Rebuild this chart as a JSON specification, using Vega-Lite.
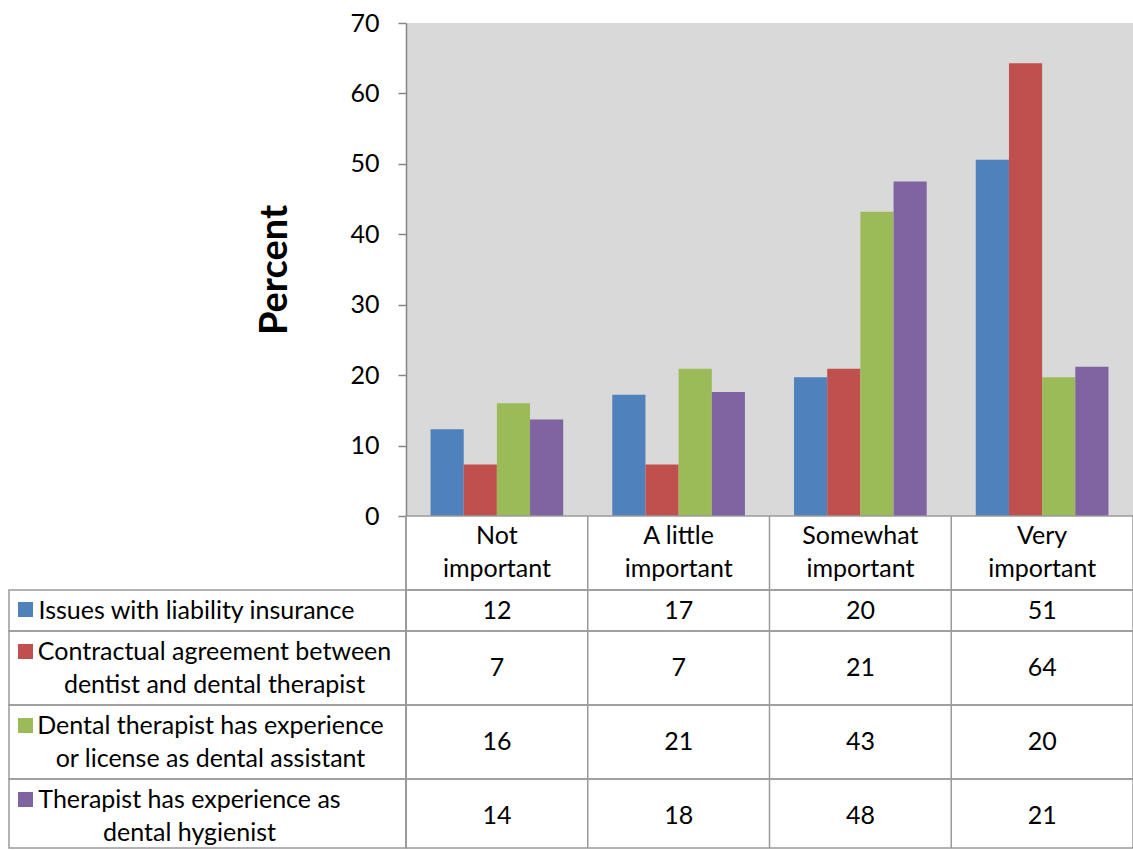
{
  "$schema": "https://vega.github.io/schema/vega-lite/v6.json",
  "padding": {"left": 8, "top": 11, "right": 0, "bottom": 0},
  "background": "white",
  "config": {
    "font": "Lato",
    "view": {"stroke": null},
    "concat": {"spacing": 0}
  },
  "datasets": {
    "survey": [
      {"category": "Not important", "series": "Issues with liability insurance", "value": 12.3},
      {"category": "Not important", "series": "Contractual agreement between\ndentist and dental therapist", "value": 7.3},
      {"category": "Not important", "series": "Dental therapist has experience\nor license as dental assistant", "value": 16.0},
      {"category": "Not important", "series": "Therapist has experience as\ndental hygienist", "value": 13.7},
      {"category": "A little important", "series": "Issues with liability insurance", "value": 17.2},
      {"category": "A little important", "series": "Contractual agreement between\ndentist and dental therapist", "value": 7.3},
      {"category": "A little important", "series": "Dental therapist has experience\nor license as dental assistant", "value": 20.9},
      {"category": "A little important", "series": "Therapist has experience as\ndental hygienist", "value": 17.6},
      {"category": "Somewhat important", "series": "Issues with liability insurance", "value": 19.7},
      {"category": "Somewhat important", "series": "Contractual agreement between\ndentist and dental therapist", "value": 20.9},
      {"category": "Somewhat important", "series": "Dental therapist has experience\nor license as dental assistant", "value": 43.2},
      {"category": "Somewhat important", "series": "Therapist has experience as\ndental hygienist", "value": 47.5},
      {"category": "Very important", "series": "Issues with liability insurance", "value": 50.6},
      {"category": "Very important", "series": "Contractual agreement between\ndentist and dental therapist", "value": 64.3},
      {"category": "Very important", "series": "Dental therapist has experience\nor license as dental assistant", "value": 19.7},
      {"category": "Very important", "series": "Therapist has experience as\ndental hygienist", "value": 21.2}
    ]
  },
  "columns": 2,
  "spacing": 0,
  "bounds": "flush",
  "resolve": {
    "scale": {"x": "independent", "y": "independent", "color": "shared"},
    "legend": {"color": "independent"}
  },
  "concat": [
    {
      "width": 397, "height": 493,
      "data": {"values": [{"blank": ""}]},
      "mark": {"type": "text"},
      "encoding": {"text": {"field": "blank"}}
    },
    {
      "width": 727, "height": 493,
      "view": {"fill": "#D9D9D9", "stroke": null},
      "data": {"name": "survey"},
      "mark": {"type": "bar"},
      "encoding": {
        "x": {
          "field": "category", "type": "nominal",
          "sort": ["Not important", "A little important", "Somewhat important", "Very important"],
          "scale": {"paddingInner": 0.27, "paddingOuter": 0.135},
          "axis": {
            "title": null, "domain": false, "ticks": false, "labelAngle": 0,
            "labelFontSize": 25, "labelColor": "black", "labelPadding": 7,
            "labelLineHeight": 33,
            "labelExpr": "[replace(datum.label, ' important', ''), 'important']"
          }
        },
        "xOffset": {
          "field": "series", "type": "nominal",
          "sort": ["Issues with liability insurance", "Contractual agreement between\ndentist and dental therapist", "Dental therapist has experience\nor license as dental assistant", "Therapist has experience as\ndental hygienist"],
          "scale": {"paddingInner": 0, "paddingOuter": 0}
        },
        "y": {
          "field": "value", "type": "quantitative",
          "scale": {"domain": [0, 70], "nice": false},
          "axis": {
            "title": "Percent", "values": [0, 10, 20, 30, 40, 50, 60, 70], "grid": false,
            "domainColor": "#868686", "domainWidth": 1.5,
            "tickColor": "#868686", "tickWidth": 1.5, "tickSize": 8,
            "labelFontSize": 25, "labelColor": "black", "labelPadding": 19,
            "titleFontSize": 38, "titleFontWeight": "bold", "titleColor": "black", "titlePadding": 55
          }
        },
        "color": {
          "field": "series", "type": "nominal",
          "scale": {
            "domain": ["Issues with liability insurance", "Contractual agreement between\ndentist and dental therapist", "Dental therapist has experience\nor license as dental assistant", "Therapist has experience as\ndental hygienist"],
            "range": ["#4F81BD", "#C0504D", "#9BBB59", "#8064A2"]
          },
          "legend": null
        }
      }
    },
    {
      "width": 397, "height": 74,
      "data": {"values": [{"blank": ""}]},
      "mark": {"type": "text"},
      "encoding": {"text": {"field": "blank"}}
    },
    {
      "width": 727, "height": 74,
      "view": {"stroke": "#9a9a9a", "strokeWidth": 1.5},
      "data": {"name": "survey"},
      "transform": [{"filter": {"field": "series", "equal": "Issues with liability insurance"}}],
      "mark": {"type": "rule", "color": "#9a9a9a", "strokeWidth": 1.5},
      "encoding": {
        "x": {"field": "category", "type": "nominal", "bandPosition": 0,
              "sort": ["Not important", "A little important", "Somewhat important", "Very important"],
              "scale": {"type": "band", "paddingInner": 0, "paddingOuter": 0}, "axis": null}
      }
    },
    {
      "width": 397, "height": 41,
      "view": {"stroke": "#9a9a9a", "strokeWidth": 1.5},
      "data": {"name": "survey"},
      "transform": [{"filter": {"field": "series", "equal": "Issues with liability insurance"}}, {"filter": {"field": "category", "equal": "Not important"}}],
      "layer": [
        {"mark": {"type": "text", "fontSize": 25, "lineBreak": "\n", "lineHeight": 33, "align": "center", "baseline": "middle", "color": "black", "dx": -11},
         "encoding": {"text": {"field": "series"}}},
        {"mark": {"type": "square", "opacity": 0},
         "encoding": {"color": {"field": "series", "type": "nominal",
           "scale": {"domain": ["Issues with liability insurance", "Contractual agreement between\ndentist and dental therapist", "Dental therapist has experience\nor license as dental assistant", "Therapist has experience as\ndental hygienist"], "range": ["#4F81BD", "#C0504D", "#9BBB59", "#8064A2"]},
           "legend": {"orient": "none", "legendX": 9, "legendY": 12, "title": null, "padding": 0, "values": ["Issues with liability insurance"], "symbolType": "square", "symbolSize": 225, "symbolOpacity": 1, "symbolStrokeWidth": 0, "labelExpr": "''"}}}}
      ]
    },
    {
      "width": 727, "height": 41,
      "view": {"stroke": "#9a9a9a", "strokeWidth": 1.5},
      "data": {"name": "survey"},
      "transform": [{"filter": {"field": "series", "equal": "Issues with liability insurance"}}],
      "layer": [
        {"mark": {"type": "rule", "color": "#9a9a9a", "strokeWidth": 1.5},
         "encoding": {"x": {"field": "category", "type": "nominal", "bandPosition": 0,
              "sort": ["Not important", "A little important", "Somewhat important", "Very important"],
              "scale": {"type": "band", "paddingInner": 0, "paddingOuter": 0}, "axis": null}}},
        {"mark": {"type": "text", "fontSize": 25, "color": "black"},
         "encoding": {"x": {"field": "category", "type": "nominal", "bandPosition": 0.5,
              "sort": ["Not important", "A little important", "Somewhat important", "Very important"],
              "scale": {"type": "band", "paddingInner": 0, "paddingOuter": 0}, "axis": null},
              "text": {"field": "value", "type": "quantitative", "format": ".0f"}}}
      ]
    },
    {
      "width": 397, "height": 74,
      "view": {"stroke": "#9a9a9a", "strokeWidth": 1.5},
      "data": {"name": "survey"},
      "transform": [{"filter": {"field": "series", "equal": "Contractual agreement between\ndentist and dental therapist"}}, {"filter": {"field": "category", "equal": "Not important"}}],
      "layer": [
        {"mark": {"type": "text", "fontSize": 25, "lineBreak": "\n", "lineHeight": 33, "align": "center", "baseline": "middle", "color": "black", "dx": 7, "dy": -16.5},
         "encoding": {"text": {"field": "series"}}},
        {"mark": {"type": "square", "opacity": 0},
         "encoding": {"color": {"field": "series", "type": "nominal",
           "scale": {"domain": ["Issues with liability insurance", "Contractual agreement between\ndentist and dental therapist", "Dental therapist has experience\nor license as dental assistant", "Therapist has experience as\ndental hygienist"], "range": ["#4F81BD", "#C0504D", "#9BBB59", "#8064A2"]},
           "legend": {"orient": "none", "legendX": 9, "legendY": 13, "title": null, "padding": 0, "values": ["Contractual agreement between\ndentist and dental therapist"], "symbolType": "square", "symbolSize": 225, "symbolOpacity": 1, "symbolStrokeWidth": 0, "labelExpr": "''"}}}}
      ]
    },
    {
      "width": 727, "height": 74,
      "view": {"stroke": "#9a9a9a", "strokeWidth": 1.5},
      "data": {"name": "survey"},
      "transform": [{"filter": {"field": "series", "equal": "Contractual agreement between\ndentist and dental therapist"}}],
      "layer": [
        {"mark": {"type": "rule", "color": "#9a9a9a", "strokeWidth": 1.5},
         "encoding": {"x": {"field": "category", "type": "nominal", "bandPosition": 0,
              "sort": ["Not important", "A little important", "Somewhat important", "Very important"],
              "scale": {"type": "band", "paddingInner": 0, "paddingOuter": 0}, "axis": null}}},
        {"mark": {"type": "text", "fontSize": 25, "color": "black"},
         "encoding": {"x": {"field": "category", "type": "nominal", "bandPosition": 0.5,
              "sort": ["Not important", "A little important", "Somewhat important", "Very important"],
              "scale": {"type": "band", "paddingInner": 0, "paddingOuter": 0}, "axis": null},
              "text": {"field": "value", "type": "quantitative", "format": ".0f"}}}
      ]
    },
    {
      "width": 397, "height": 74,
      "view": {"stroke": "#9a9a9a", "strokeWidth": 1.5},
      "data": {"name": "survey"},
      "transform": [{"filter": {"field": "series", "equal": "Dental therapist has experience\nor license as dental assistant"}}, {"filter": {"field": "category", "equal": "Not important"}}],
      "layer": [
        {"mark": {"type": "text", "fontSize": 25, "lineBreak": "\n", "lineHeight": 33, "align": "center", "baseline": "middle", "color": "black", "dx": 3, "dy": -16.5},
         "encoding": {"text": {"field": "series"}}},
        {"mark": {"type": "square", "opacity": 0},
         "encoding": {"color": {"field": "series", "type": "nominal",
           "scale": {"domain": ["Issues with liability insurance", "Contractual agreement between\ndentist and dental therapist", "Dental therapist has experience\nor license as dental assistant", "Therapist has experience as\ndental hygienist"], "range": ["#4F81BD", "#C0504D", "#9BBB59", "#8064A2"]},
           "legend": {"orient": "none", "legendX": 9, "legendY": 13, "title": null, "padding": 0, "values": ["Dental therapist has experience\nor license as dental assistant"], "symbolType": "square", "symbolSize": 225, "symbolOpacity": 1, "symbolStrokeWidth": 0, "labelExpr": "''"}}}}
      ]
    },
    {
      "width": 727, "height": 74,
      "view": {"stroke": "#9a9a9a", "strokeWidth": 1.5},
      "data": {"name": "survey"},
      "transform": [{"filter": {"field": "series", "equal": "Dental therapist has experience\nor license as dental assistant"}}],
      "layer": [
        {"mark": {"type": "rule", "color": "#9a9a9a", "strokeWidth": 1.5},
         "encoding": {"x": {"field": "category", "type": "nominal", "bandPosition": 0,
              "sort": ["Not important", "A little important", "Somewhat important", "Very important"],
              "scale": {"type": "band", "paddingInner": 0, "paddingOuter": 0}, "axis": null}}},
        {"mark": {"type": "text", "fontSize": 25, "color": "black"},
         "encoding": {"x": {"field": "category", "type": "nominal", "bandPosition": 0.5,
              "sort": ["Not important", "A little important", "Somewhat important", "Very important"],
              "scale": {"type": "band", "paddingInner": 0, "paddingOuter": 0}, "axis": null},
              "text": {"field": "value", "type": "quantitative", "format": ".0f"}}}
      ]
    },
    {
      "width": 397, "height": 69,
      "view": {"stroke": "#9a9a9a", "strokeWidth": 1.5},
      "data": {"name": "survey"},
      "transform": [{"filter": {"field": "series", "equal": "Therapist has experience as\ndental hygienist"}}, {"filter": {"field": "category", "equal": "Not important"}}],
      "layer": [
        {"mark": {"type": "text", "fontSize": 25, "lineBreak": "\n", "lineHeight": 33, "align": "center", "baseline": "middle", "color": "black", "dx": -18, "dy": -14},
         "encoding": {"text": {"field": "series"}}},
        {"mark": {"type": "square", "opacity": 0},
         "encoding": {"color": {"field": "series", "type": "nominal",
           "scale": {"domain": ["Issues with liability insurance", "Contractual agreement between\ndentist and dental therapist", "Dental therapist has experience\nor license as dental assistant", "Therapist has experience as\ndental hygienist"], "range": ["#4F81BD", "#C0504D", "#9BBB59", "#8064A2"]},
           "legend": {"orient": "none", "legendX": 9, "legendY": 13, "title": null, "padding": 0, "values": ["Therapist has experience as\ndental hygienist"], "symbolType": "square", "symbolSize": 225, "symbolOpacity": 1, "symbolStrokeWidth": 0, "labelExpr": "''"}}}}
      ]
    },
    {
      "width": 727, "height": 69,
      "view": {"stroke": "#9a9a9a", "strokeWidth": 1.5},
      "data": {"name": "survey"},
      "transform": [{"filter": {"field": "series", "equal": "Therapist has experience as\ndental hygienist"}}],
      "layer": [
        {"mark": {"type": "rule", "color": "#9a9a9a", "strokeWidth": 1.5},
         "encoding": {"x": {"field": "category", "type": "nominal", "bandPosition": 0,
              "sort": ["Not important", "A little important", "Somewhat important", "Very important"],
              "scale": {"type": "band", "paddingInner": 0, "paddingOuter": 0}, "axis": null}}},
        {"mark": {"type": "text", "fontSize": 25, "color": "black", "dy": 2},
         "encoding": {"x": {"field": "category", "type": "nominal", "bandPosition": 0.5,
              "sort": ["Not important", "A little important", "Somewhat important", "Very important"],
              "scale": {"type": "band", "paddingInner": 0, "paddingOuter": 0}, "axis": null},
              "text": {"field": "value", "type": "quantitative", "format": ".0f"}}}
      ]
    }
  ]
}
